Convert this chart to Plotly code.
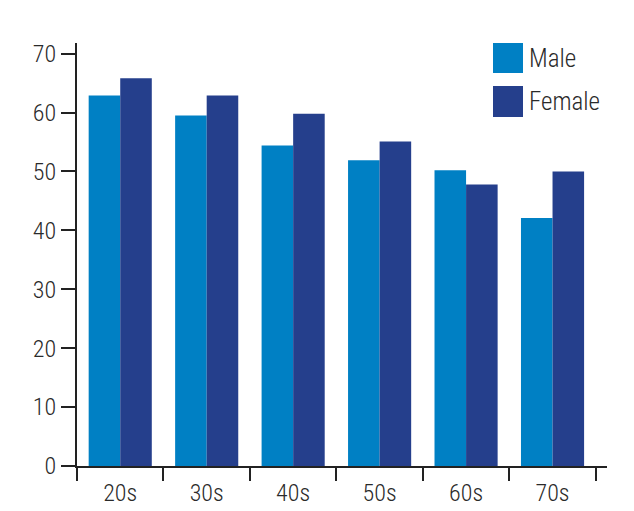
import plotly.graph_objects as go

categories = ["20s", "30s", "40s", "50s", "60s", "70s"]
series_names = ["Male", "Female"]
male = [62.9, 59.5, 54.4, 51.9, 50.2, 42.1]
female = [65.8, 62.9, 59.8, 55.1, 47.8, 50.0]
y_ticks = [0, 10, 20, 30, 40, 50, 60, 70]

colors = ["#0080C4", "#253F8C"]
text_color = "#2a2a2a"
font_family = "Roboto Condensed, Liberation Sans Narrow, sans-serif"

fig = go.Figure()
for name, vals, col in zip(series_names, [male, female], colors):
    fig.add_trace(go.Bar(x=categories, y=vals, name=name, marker=dict(color=col, line=dict(width=0)),
                         showlegend=False))

# page offset (body margin) of 8px
OFF = 8
W, H = 634 - OFF, 511 - OFF
L, R, T, B = 77 - OFF, 607 - OFF, 43 - OFF, 466 - OFF
pw, ph = R - L, B - T

def px(xp):
    return (xp - OFF - L) / pw

def py(yp):
    return (B - (yp - OFF)) / ph

shapes = []
annotations = []
legend_rows = [(43, 73), (86, 117)]
for (y0, y1), name, col in zip(legend_rows, series_names, colors):
    shapes.append(dict(type="rect", xref="paper", yref="paper",
                       x0=px(493), x1=px(523), y0=py(y1), y1=py(y0),
                       fillcolor=col, line=dict(width=0)))
    annotations.append(dict(xref="paper", yref="paper", x=px(527), y=py((y0 + y1) / 2),
                            text=name, showarrow=False, xanchor="left", yanchor="middle",
                            font=dict(size=25, color=text_color, family=font_family, weight=300)))

fig.update_layout(
    width=W, height=H,
    margin=dict(l=L, r=W - R, t=T, b=H - B, pad=0, autoexpand=False),
    paper_bgcolor="white", plot_bgcolor="white",
    barmode="group", bargap=0.27, bargroupgap=0,
    font=dict(family=font_family, size=24, color=text_color, weight=300),
    shapes=shapes, annotations=annotations,
    showlegend=False,
)
fig.update_xaxes(
    range=[-0.5, 5.63], showline=True, linecolor="#222222", linewidth=2,
    ticks="outside", tickson="boundaries", ticklen=13, tickwidth=2, tickcolor="#222222",
    showgrid=False, zeroline=False, ticklabelstandoff=4, automargin=False,
    tickfont=dict(size=24, color=text_color, family=font_family, weight=300),
)
fig.update_yaxes(
    range=[0, 71.8], tickvals=y_ticks, showline=True, linecolor="#222222", linewidth=2,
    ticks="outside", ticklen=14, tickwidth=2, tickcolor="#222222",
    showgrid=False, zeroline=False, automargin=False,
    tickfont=dict(size=24, color=text_color, family=font_family, weight=300),
)

fig.write_html("out.html")
